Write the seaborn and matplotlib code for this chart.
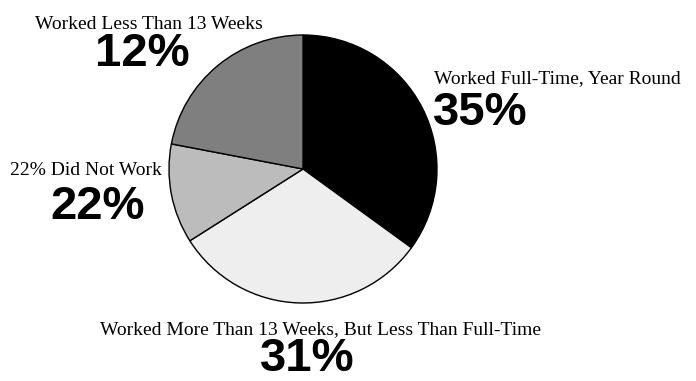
import matplotlib
matplotlib.use("Agg")
import matplotlib.pyplot as plt
import seaborn as sns

# Work experience shares (percent), clockwise from 12 o'clock
categories = [
    "Worked Full-Time, Year Round",
    "Worked More Than 13 Weeks, But Less Than Full-Time",
    "Worked Less Than 13 Weeks",
    "Did Not Work",
]
shares = [35, 31, 12, 22]
slice_colors = ["#000000", "#eeeeee", "#bcbcbc", "#7f7f7f"]

sns.set_theme(style="white")
plt.rcParams["font.family"] = ["Liberation Serif", "DejaVu Serif"]

W, H = 696, 381
fig = plt.figure(figsize=(W / 100, H / 100), dpi=100)
ax = fig.add_axes([0, 0, 1, 1])

ax.pie(
    shares,
    colors=slice_colors,
    startangle=90,
    counterclock=False,
    center=(303, H - 169),
    radius=134,
    wedgeprops=dict(edgecolor="black", linewidth=1.0),
)
ax.set_xlim(0, W)
ax.set_ylim(0, H)
ax.set_aspect("equal")
ax.axis("off")

label_font = dict(family=["Liberation Serif", "DejaVu Serif"], fontsize=14, color="black")
pct_font = dict(family=["Liberation Sans", "DejaVu Sans"], fontsize=34, fontweight="bold", color="black")

# (caption, value, caption x, value x, caption baseline y, value baseline y, alignment)
placements = [
    ("Worked Full-Time, Year Round", shares[0], 434, 433, 83, 125, "left"),
    ("Worked More Than 13 Weeks, But Less Than Full-Time", shares[1], 320, 307, 334, 371, "center"),
    ("Worked Less Than 13 Weeks", shares[2], 149, 142, 29, 66, "center"),
    ("22% Did Not Work", shares[3], 86, 98, 175, 219, "center"),
]
for caption, value, xc, xv, yc, yv, ha in placements:
    ax.text(xc, H - yc, caption, ha=ha, va="baseline", **label_font)
    ax.text(xv, H - yv, f"{value}%", ha=ha, va="baseline", **pct_font)

fig.savefig("out.png", dpi=100, facecolor="white")
